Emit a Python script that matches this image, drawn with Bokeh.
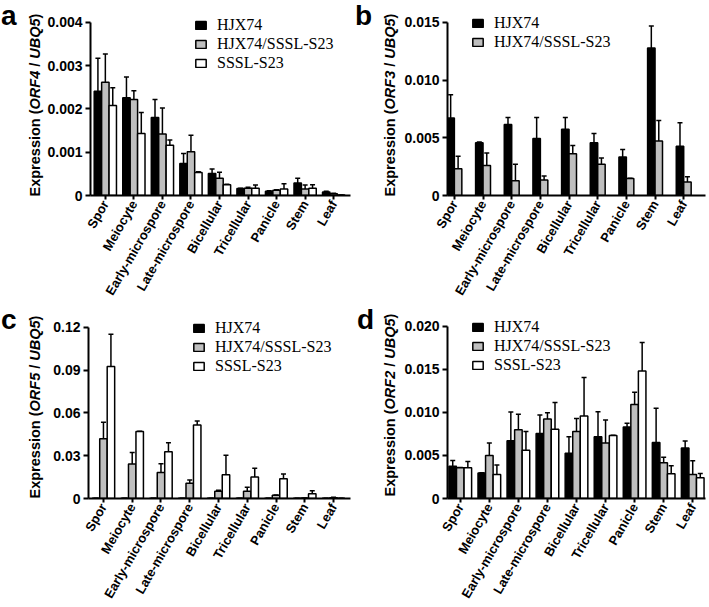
import math
from bokeh.plotting import figure
from bokeh.models import (ColumnDataSource, Whisker, TeeHead, FixedTicker, Div,
                          Legend, LegendItem, Range1d, PrintfTickFormatter)
from bokeh.transform import dodge
from bokeh.layouts import column, row
from bokeh.embed import file_html
from bokeh.resources import INLINE

tissues = ["Spor", "Meiocyte", "Early-microspore", "Late-microspore", "Bicellular",
           "Tricellular", "Panicle", "Stem", "Leaf"]
series_names = ["HJX74", "HJX74/SSSL-S23", "SSSL-S23"]

# Panel a: ORF4 / UBQ5 (mean, SD)
orf4_hjx74 = [0.00241, 0.00226, 0.00180, 0.00074, 0.00051, 0.00016, 0.00010, 0.00029, 0.00008]
orf4_hjx74_sd = [0.00076, 0.00048, 0.00042, 0.00023, 0.00010, 0.00001, 0.00001, 0.00011, 0.00002]
orf4_het = [0.00262, 0.00222, 0.00142, 0.00101, 0.00040, 0.00017, 0.00012, 0.00015, 0.00004]
orf4_het_sd = [0.00065, 0.00020, 0.00060, 0.00038, 0.00014, 0.00002, 0.00001, 0.00009, 0.00001]
orf4_sssl = [0.00208, 0.00143, 0.00116, 0.00053, 0.00025, 0.00017, 0.00015, 0.00017, 0.00001]
orf4_sssl_sd = [0.00041, 0.00049, 0.00012, 0.00002, 0.00001, 0.00007, 0.00012, 0.00008, 0.0]

# Panel b: ORF3 / UBQ5
orf3_hjx74 = [0.00672, 0.00456, 0.00615, 0.00493, 0.00573, 0.00456, 0.00333, 0.01277, 0.00427]
orf3_hjx74_sd = [0.00200, 0.00008, 0.00060, 0.00182, 0.00102, 0.00082, 0.00066, 0.00191, 0.00203]
orf3_het = [0.00231, 0.00259, 0.00128, 0.00134, 0.00362, 0.00271, 0.00148, 0.00473, 0.00117]
orf3_het_sd = [0.00108, 0.00109, 0.00143, 0.00034, 0.00071, 0.00054, 0.00002, 0.00177, 0.00045]

# Panel c: ORF5 / UBQ5
orf5_hjx74 = [0.0001, 0.0001, 0.0001, 0.0001, 0.0001, 0.0001, 0.0001, 0.0001, 0.0001]
orf5_hjx74_sd = [0.0, 0.0, 0.0, 0.0, 0.0, 0.0, 0.0, 0.0, 0.0]
orf5_het = [0.0419, 0.0241, 0.0182, 0.0106, 0.0051, 0.0050, 0.0023, 0.0003, 0.0005]
orf5_het_sd = [0.0115, 0.0081, 0.0062, 0.0023, 0.0007, 0.0029, 0.0002, 0.0001, 0.0003]
orf5_sssl = [0.0924, 0.0469, 0.0327, 0.0515, 0.0166, 0.0150, 0.0138, 0.0034, 0.0002]
orf5_sssl_sd = [0.0226, 0.0003, 0.0064, 0.0028, 0.0137, 0.0062, 0.0034, 0.0021, 0.0]

# Panel d: ORF2 / UBQ5
orf2_hjx74 = [0.00375, 0.00295, 0.00670, 0.00755, 0.00525, 0.00716, 0.00831, 0.00651, 0.00586]
orf2_hjx74_sd = [0.00065, 0.00005, 0.00334, 0.00215, 0.00191, 0.00292, 0.00043, 0.00395, 0.00081]
orf2_het = [0.00356, 0.00498, 0.00797, 0.00923, 0.00778, 0.00644, 0.01092, 0.00414, 0.00278]
orf2_het_sd = [0.00004, 0.00146, 0.00180, 0.00073, 0.00149, 0.00268, 0.00142, 0.00065, 0.00159]
orf2_sssl = [0.00356, 0.00278, 0.00560, 0.00805, 0.00958, 0.00732, 0.01480, 0.00287, 0.00240]
orf2_sssl_sd = [0.00074, 0.00112, 0.00218, 0.00310, 0.00447, 0.00003, 0.00330, 0.00092, 0.00050]

ticks_a = [0, 0.001, 0.002, 0.003, 0.004]
ticks_b = [0, 0.005, 0.010, 0.015]
ticks_c = [0, 0.03, 0.06, 0.09, 0.12]
ticks_d = [0, 0.005, 0.010, 0.015, 0.020]

FILLS = ["#000000", "#bfbfbf", "#ffffff"]
SANS = "Liberation Sans"
SERIF = "Liberation Serif"
FS = 14.5  # axis-title font size (px)


def make_title_div(letter, gene, width, height, letter_x, letter_top, col_x, center_y):
    """Panel letter plus rotated y-axis title (with italic gene names) as real HTML text."""
    html = (
        f'<div style="position:relative;width:{width}px;height:{height}px;">'
        f'<div style="position:absolute;left:{letter_x}px;top:{letter_top}px;'
        f"font-family:'{SANS}';font-weight:bold;font-size:28px;line-height:1;"
        f'color:#000;">{letter}</div>'
        f'<div style="position:absolute;left:{col_x}px;top:{center_y}px;'
        f'transform:translate(-50%,-50%) rotate(-90deg);white-space:nowrap;'
        f"font-family:'{SANS}';font-weight:bold;font-size:{FS}px;line-height:1;"
        f'color:#000;">Expression (<i>{gene}</i> / <i>UBQ5</i>)</div>'
        f'</div>'
    )
    return Div(text=html, width=width, height=height, margin=0)


def make_panel(data, ticks, fmt, y_end, x_start, x_end, width, height, borders, legend_xy):
    left, right, top, bottom = borders
    p = figure(width=width, height=height, output_backend="svg", toolbar_location=None,
               title=None, x_range=Range1d(x_start, x_end), y_range=Range1d(0, y_end),
               min_border_left=left, min_border_right=right, min_border_top=top,
               min_border_bottom=bottom)
    p.outline_line_color = None
    p.xgrid.visible = False
    p.ygrid.visible = False
    p.background_fill_color = None
    p.border_fill_color = None

    n = len(data)
    bw = 0.26
    offsets = [(i - (n - 1) / 2.0) * bw for i in range(n)]
    items = []
    for k, (name, vals, sds) in enumerate(data):
        src = ColumnDataSource(dict(x=list(range(len(tissues))), v=vals,
                                    u=[a + b for a, b in zip(vals, sds)]))
        r = p.vbar(x=dodge("x", offsets[k], range=p.x_range), top="v", width=bw,
                   source=src, fill_color=FILLS[k], line_color="black", line_width=1.5)
        w = Whisker(base=dodge("x", offsets[k], range=p.x_range), upper="u", lower="v",
                    source=src, line_color="black", line_width=1.5,
                    upper_head=TeeHead(size=5, line_width=1.5, line_color="black"),
                    lower_head=None)
        p.add_layout(w)
        items.append(LegendItem(label=name, renderers=[r]))

    leg = Legend(items=items, location=legend_xy, margin=0, padding=0, spacing=0,
                 label_height=19, glyph_height=10, glyph_width=13, label_standoff=10,
                 label_text_font=SERIF, label_text_font_size="16px",
                 label_text_color="black", label_text_baseline="middle",
                 border_line_color=None, background_fill_alpha=0)
    p.add_layout(leg)

    for ax in (p.xaxis, p.yaxis):
        ax.axis_line_width = 2
        ax.major_tick_line_width = 2
        ax.minor_tick_line_color = None
        ax.major_tick_in = 0
        ax.major_label_text_font = SANS
        ax.major_label_text_font_style = "bold"
        ax.major_label_text_color = "black"
    p.yaxis.major_label_text_font_size = "14px"
    p.xaxis.major_label_text_font_size = "13px"
    p.yaxis.ticker = FixedTicker(ticks=ticks)
    p.yaxis.bounds = (ticks[0], ticks[-1])
    p.yaxis.formatter = PrintfTickFormatter(format=fmt)
    p.yaxis.major_label_overrides = {0: "0"}
    p.yaxis.major_tick_out = 5
    p.yaxis.major_label_standoff = 3
    p.xaxis.ticker = FixedTicker(ticks=list(range(len(tissues))))
    p.xaxis.major_label_overrides = {i: t for i, t in enumerate(tissues)}
    p.xaxis.major_label_orientation = math.radians(60)
    p.xaxis.major_tick_out = 4
    p.xaxis.major_label_standoff = 2
    return p


# top row (0..304 px); frames start 6 px below the top, top tick at 22 px
ta = make_title_div("a", "ORF4", 44, 304, 1, 2, 35, 105)
pa = make_panel([(series_names[0], orf4_hjx74, orf4_hjx74_sd),
                 (series_names[1], orf4_het, orf4_het_sd),
                 (series_names[2], orf4_sssl, orf4_sssl_sd)],
                ticks_a, "%.3f", 0.004 * 190 / 174, -0.52, 8.59, 309, 304,
                (44, 3, 6, 108), (104, 123))
tb = make_title_div("b", "ORF3", 48, 304, 2, 2, 37, 105)
pb = make_panel([(series_names[0], orf3_hjx74, orf3_hjx74_sd),
                 (series_names[1], orf3_het, orf3_het_sd)],
                ticks_b, "%.3f", 0.015 * 191 / 175, -0.24, 8.76, 306, 304,
                (44, 2, 6, 107), (24, 144))

# bottom row (304..607 px)
tc = make_title_div("c", "ORF5", 44, 303, 1, 2, 35, 103)
pc = make_panel([(series_names[0], orf5_hjx74, orf5_hjx74_sd),
                 (series_names[1], orf5_het, orf5_het_sd),
                 (series_names[2], orf5_sssl, orf5_sssl_sd)],
                ticks_c, "%.2f", 0.12 * 191 / 174, -0.52, 8.59, 309, 303,
                (44, 3, 6, 106), (104, 123))
td = make_title_div("d", "ORF2", 48, 303, 4, 2, 37, 101)
pd_ = make_panel([(series_names[0], orf2_hjx74, orf2_hjx74_sd),
                  (series_names[1], orf2_het, orf2_het_sd),
                  (series_names[2], orf2_sssl, orf2_sssl_sd)],
                 ticks_d, "%.3f", 0.02 * 192 / 176, -0.44, 8.44, 306, 303,
                 (44, 2, 6, 105), (24, 124))

layout = column(row(ta, pa, tb, pb), row(tc, pc, td, pd_))
open("out.html", "w").write(file_html(layout, INLINE))
